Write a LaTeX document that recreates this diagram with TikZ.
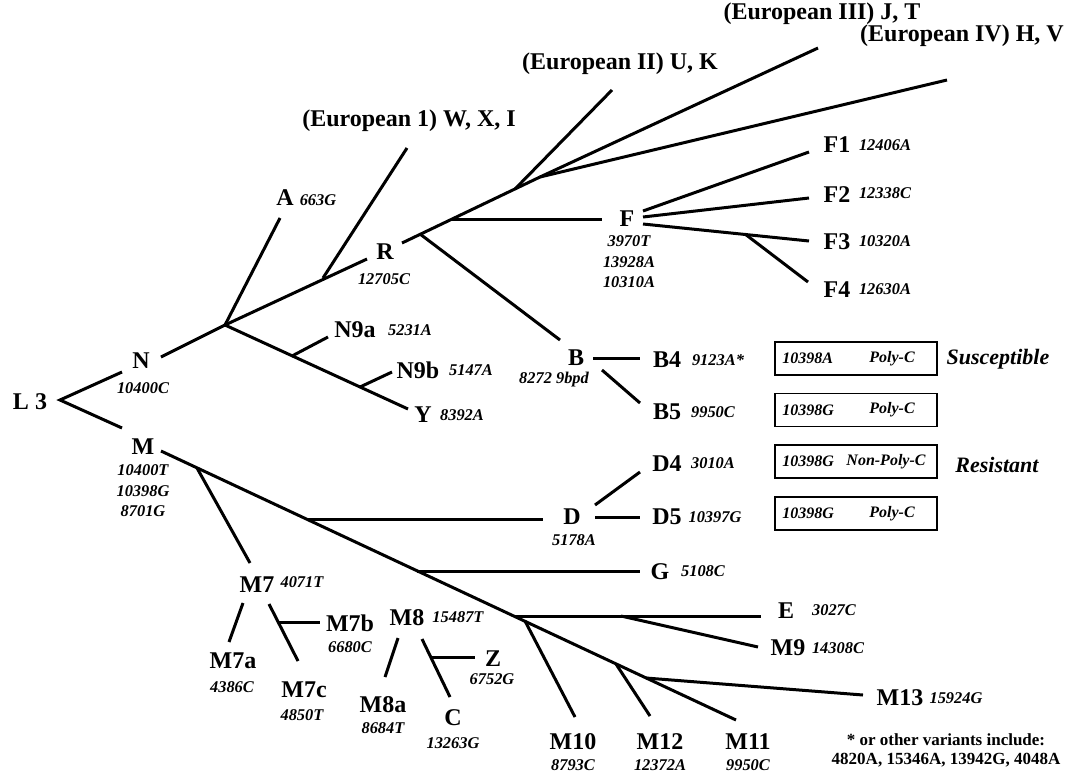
\documentclass[tikz,border=0pt]{standalone}
\usepackage{fontspec}
\setmainfont{Liberation Serif}
\tikzset{
	branch/.style={line width=1.5pt},
	hap/.style={font=\fontsize{12}{14}\selectfont\bfseries, inner sep=0pt},
	mut/.style={font=\fontsize{8.2}{10.2}\selectfont\bfseries\itshape, inner sep=0pt, align=center},
	boxtxt/.style={font=\fontsize{8}{9}\selectfont\bfseries\itshape, inner sep=0pt},
	cbox/.style={draw, line width=0.8pt, minimum width=81pt, minimum height=16.5pt, inner sep=0pt},
	note/.style={font=\fontsize{11}{13}\selectfont\bfseries\itshape, inner sep=0pt},
	foot/.style={font=\fontsize{8.5}{9.5}\selectfont\bfseries, inner sep=0pt, align=center}
}
\begin{document}
\begin{tikzpicture}[x=0.5pt,y=-0.5pt]
	\useasboundingbox (0,0) rectangle (1066,772);
	% root
	\coordinate (l3) at (60,400);
	\coordinate (toN) at (122,372);
	\coordinate (toM) at (122,428);
	% N side
	\coordinate (nS) at (161,357);
	\coordinate (jN) at (225,325);
	\coordinate (toA) at (280,218);
	\coordinate (jW) at (323,278);
	\coordinate (toW) at (407,148);
	\coordinate (toR) at (367,259);
	\coordinate (jN9a) at (292,356);
	\coordinate (toN9a) at (328,337);
	\coordinate (jN9b) at (360,387);
	\coordinate (toN9b) at (392,372);
	\coordinate (toY) at (408,409);
	% R side
	\coordinate (rS) at (402,243);
	\coordinate (jB) at (420,234);
	\coordinate (jF) at (452,219);
	\coordinate (jU) at (515,189);
	\coordinate (jJH) at (540,177);
	\coordinate (toB) at (560,340);
	\coordinate (toF) at (602,219);
	\coordinate (toU) at (612,90);
	\coordinate (toJ) at (818,48);
	\coordinate (toH) at (947,80);
	% F
	\coordinate (f1S) at (643,211);
	\coordinate (toF1) at (809,152);
	\coordinate (f2S) at (643,217);
	\coordinate (toF2) at (809,198);
	\coordinate (f3S) at (643,224);
	\coordinate (jF4) at (745,234);
	\coordinate (toF3) at (809,241);
	\coordinate (toF4) at (808,282);
	% B
	\coordinate (b4S) at (593,358);
	\coordinate (toB4) at (640,358);
	\coordinate (b5S) at (602,370);
	\coordinate (toB5) at (640,403);
	% M side
	\coordinate (mS) at (161,451);
	\coordinate (jM7) at (197,468);
	\coordinate (jD) at (307,519);
	\coordinate (jM8) at (367,547);
	\coordinate (jG) at (417,571);
	\coordinate (jE) at (514,616);
	\coordinate (jM10) at (525,621);
	\coordinate (jM12) at (616,664);
	\coordinate (jM13) at (646,678);
	\coordinate (toM11) at (736,720);
	\coordinate (toM7) at (250,563);
	\coordinate (toD) at (543,519);
	\coordinate (d4S) at (595,505);
	\coordinate (toD4) at (640,472);
	\coordinate (d5S) at (595,517);
	\coordinate (toD5) at (640,517);
	\coordinate (toG) at (640,571);
	\coordinate (jM9) at (621,616);
	\coordinate (toE) at (761,616);
	\coordinate (toM9) at (758,647);
	\coordinate (toM13) at (863,695);
	\coordinate (toM10) at (575,717);
	\coordinate (toM12) at (650,716);
	% M7 and M8
	\coordinate (m7aS) at (243,603);
	\coordinate (toM7a) at (229,642);
	\coordinate (m7cS) at (269,604);
	\coordinate (jM7b) at (278,622);
	\coordinate (toM7c) at (298,661);
	\coordinate (toM7b) at (320,622);
	\coordinate (m8aS) at (398,638);
	\coordinate (toM8a) at (385,677);
	\coordinate (cS) at (422,639);
	\coordinate (jZ) at (431,657);
	\coordinate (toC) at (450,697);
	\coordinate (toZ) at (475,657);

	% branches
	\draw[branch] (toN) -- (l3) -- (toM);
	\draw[branch] (nS) -- (jN) -- (toR);
	\draw[branch] (jN) -- (toA);
	\draw[branch] (jW) -- (toW);
	\draw[branch] (jN) -- (toY);
	\draw[branch] (jN9a) -- (toN9a);
	\draw[branch] (jN9b) -- (toN9b);
	\draw[branch] (rS) -- (jJH);
	\draw[branch] (jB) -- (toB);
	\draw[branch] (jF) -- (toF);
	\draw[branch] (jU) -- (toU);
	\draw[branch] (jJH) -- (toJ);
	\draw[branch] (jJH) -- (toH);
	\draw[branch] (f1S) -- (toF1);
	\draw[branch] (f2S) -- (toF2);
	\draw[branch] (f3S) -- (toF3);
	\draw[branch] (jF4) -- (toF4);
	\draw[branch] (b4S) -- (toB4);
	\draw[branch] (b5S) -- (toB5);
	\draw[branch] (mS) -- (toM11);
	\draw[branch] (jM7) -- (toM7);
	\draw[branch] (jD) -- (toD);
	\draw[branch] (d4S) -- (toD4);
	\draw[branch] (d5S) -- (toD5);
	\draw[branch] (jG) -- (toG);
	\draw[branch] (jE) -- (toE);
	\draw[branch] (jM9) -- (toM9);
	\draw[branch] (jM13) -- (toM13);
	\draw[branch] (jM10) -- (toM10);
	\draw[branch] (jM12) -- (toM12);
	\draw[branch] (m7aS) -- (toM7a);
	\draw[branch] (m7cS) -- (toM7c);
	\draw[branch] (jM7b) -- (toM7b);
	\draw[branch] (m8aS) -- (toM8a);
	\draw[branch] (cS) -- (toC);
	\draw[branch] (jZ) -- (toZ);

	% haplogroup labels
	\node[hap] (L3) at (30,402) {L 3};
	\node[hap] (N) at (141,361) {N};
	\node[mut] (mN) at (143,388) {10400C};
	\node[hap] (M) at (143,447) {M};
	\node[mut] (mM) at (143,491) {10400T\\10398G\\8701G};
	\node[hap] (A) at (285,198) {A};
	\node[mut] (mA) at (318,200) {663G};
	\node[hap] (R) at (385,252) {R};
	\node[mut] (mR) at (384,279) {12705C};
	\node[hap] (N9a) at (355,330) {N9a};
	\node[mut] (mN9a) at (410,330) {5231A};
	\node[hap] (N9b) at (418,370) {N9b};
	\node[mut] (mN9b) at (471,370) {5147A};
	\node[hap] (Y) at (423,415) {Y};
	\node[mut] (mY) at (462,415) {8392A};
	\node[hap] (eu1) at (409,121) {(European 1) W, X, I};
	\node[hap] (eu2) at (620,64) {(European II) U, K};
	\node[hap] (eu3) at (822,14) {(European III) J, T};
	\node[hap] (eu4) at (962,36) {(European IV) H, V};
	\node[hap] (F) at (627,219) {F};
	\node[mut] (mF) at (629,262) {3970T\\13928A\\10310A};
	\node[hap] (F1) at (837,145) {F1};
	\node[mut] (mF1) at (885,145) {12406A};
	\node[hap] (F2) at (837,195) {F2};
	\node[mut] (mF2) at (885,193) {12338C};
	\node[hap] (F3) at (837,242) {F3};
	\node[mut] (mF3) at (885,241) {10320A};
	\node[hap] (F4) at (837,290) {F4};
	\node[mut] (mF4) at (885,289) {12630A};
	\node[hap] (B) at (576,358) {B};
	\node[mut] (mB) at (554,380) {8272 9bpd};
	\node[hap] (B4) at (667,360) {B4};
	\node[mut] (mB4) at (718,360) {9123A*};
	\node[hap] (B5) at (667,412) {B5};
	\node[mut] (mB5) at (713,412) {9950C};
	\node[hap] (D) at (572,517) {D};
	\node[mut] (mD) at (574,540) {5178A};
	\node[hap] (D4) at (667,464) {D4};
	\node[mut] (mD4) at (713,463) {3010A};
	\node[hap] (D5) at (667,517) {D5};
	\node[mut] (mD5) at (715,517) {10397G};
	\node[hap] (G) at (660,572) {G};
	\node[mut] (mG) at (703,571) {5108C};
	\node[hap] (E) at (786,611) {E};
	\node[mut] (mE) at (834,610) {3027C};
	\node[hap] (M9) at (788,648) {M9};
	\node[mut] (mM9) at (838,648) {14308C};
	\node[hap] (M13) at (900,698) {M13};
	\node[mut] (mM13) at (956,698) {15924G};
	\node[hap] (M10) at (573,742) {M10};
	\node[mut] (mM10) at (573,765) {8793C};
	\node[hap] (M12) at (660,742) {M12};
	\node[mut] (mM12) at (660,765) {12372A};
	\node[hap] (M11) at (748,742) {M11};
	\node[mut] (mM11) at (748,765) {9950C};
	\node[hap] (M7) at (257,585) {M7};
	\node[mut] (mM7) at (302,582) {4071T};
	\node[hap] (M7a) at (233,661) {M7a};
	\node[mut] (mM7a) at (232,687) {4386C};
	\node[hap] (M7b) at (350,623) {M7b};
	\node[mut] (mM7b) at (350,647) {6680C};
	\node[hap] (M7c) at (304,690) {M7c};
	\node[mut] (mM7c) at (302,715) {4850T};
	\node[hap] (M8) at (407,618) {M8};
	\node[mut] (mM8) at (458,617) {15487T};
	\node[hap] (M8a) at (383,705) {M8a};
	\node[mut] (mM8a) at (383,728) {8684T};
	\node[hap] (Z) at (493,659) {Z};
	\node[mut] (mZ) at (492,679) {6752G};
	\node[hap] (C) at (453,718) {C};
	\node[mut] (mC) at (453,743) {13263G};

	% boxes
	\node[cbox] (box1) at (856,358.5) {};
	\node[boxtxt, anchor=west] (box1a) at (782,358.5) {10398A};
	\node[boxtxt] (box1b) at (892,358.5) {Poly-C};
	\node[cbox] (box2) at (856,410) {};
	\node[boxtxt, anchor=west] (box2a) at (782,410) {10398G};
	\node[boxtxt] (box2b) at (892,410) {Poly-C};
	\node[cbox] (box3) at (856,461.5) {};
	\node[boxtxt, anchor=west] (box3a) at (782,461.5) {10398G};
	\node[boxtxt] (box3b) at (886,461.5) {Non-Poly-C};
	\node[cbox] (box4) at (856,513.5) {};
	\node[boxtxt, anchor=west] (box4a) at (782,513.5) {10398G};
	\node[boxtxt] (box4b) at (892,513.5) {Poly-C};
	\node[note] (sus) at (998,359) {Susceptible};
	\node[note] (res) at (997,465) {Resistant};
	\node[foot] (foot) at (946,750) {* or other variants include:\\4820A, 15346A, 13942G, 4048A};
\end{tikzpicture}
\end{document}
